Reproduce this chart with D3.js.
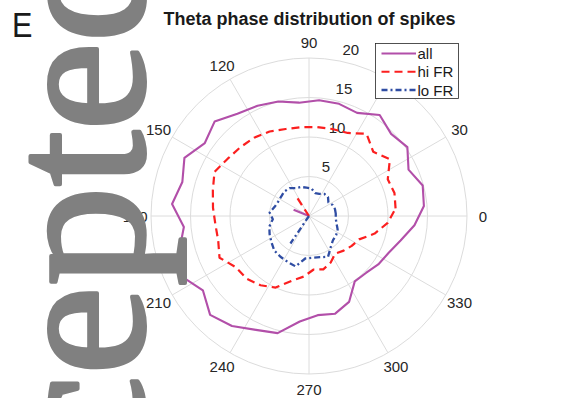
<!DOCTYPE html>
<html><head><meta charset="utf-8">
<script src="https://cdn.jsdelivr.net/npm/d3@7"></script>
<style>body{margin:0;background:#fff}svg{display:block}
.wm{font-family:"Liberation Serif","Times New Roman",Times,"Tinos","DejaVu Serif",serif;}</style>
</head><body>
<svg id="chart" width="571" height="398"></svg>
<script>
// ---- data ----
const binAngles = [5,15,25,35,45,55,65,75,85,95,105,115,125,135,145,155,165,175,
                   185,195,205,215,225,235,245,255,265,275,285,295,305,315,325,335,345,355];
const allVals = [14.6,14.9,13.9,15.2,14.7,15.6,14.4,14.7,14.7, 14.4,15.0,15.4,15.8,16.9,16.1,17.4,16.6,17.4,
                 15.9,17.0,17.9,16.4,17.7,17.0,15.9,15.35,13.4, 12.6,12.8,12.0,10.1,10.2,10.7,11.1,12.0,13.4];
const hiVals  = [11.0,11.2,11.0,12.5,11.5,12.7,11.6,11.4,11.3, 11.3,11.4,11.8,12.1,12.3,12.6,13.2,12.6,12.2,
                 11.9,11.9,12.5,11.3,11.2,10.7,10.0,8.5,7.7, 6.8,7.0,6.5,5.8,6.2,6.6,7.0,8.6,10.0];
const loVals  = [3.4,3.4,3.3,3.0,3.4,3.4,3.1,3.0,3.5, 3.6,3.8,3.9,4.3,4.4,4.3,4.3,4.5,5.0,
                 4.6,5.2,5.5,5.8,6.2,6.3,6.4,6.6,5.4, 5.3,5.4,5.7,4.8,4.3,4.2,4.0,3.6,3.4];
const seriesNames = ["all", "hi FR", "lo FR"];
const meanAngles  = [158, 123, 236];
const meanLengths = [2.1, 3.1, 4.2];
const ringTicks   = [5, 10, 15, 20];
const spokeAngles = [0, 30, 60, 90, 120, 150];
const angleTicks  = [30, 60, 90, 120, 150, 180, 210, 240, 270, 300, 330, 360];
const angleLabels = ["30","60","90","120","150","180","210","240","270","300","330","0"];
const titleText = "Theta phase distribution of spikes";
const panelLabel = "E";
const watermark = "Accepted";

// ---- setup ----
const svg = d3.select("#chart");
const cx = 309, cy = 216;
const R = 158;
const r = d3.scaleLinear().domain([0, 20]).range([0, R]);
const toRad = d => d * Math.PI / 180;
const colors = ["#b24fa9", "#fb1f1f", "#2f4da3"];
const dashes = [null, "8,5", "6,3,2,3"];
const widths = [2.1, 2.2, 2.3];
const font = "'Liberation Sans', Arial, Helvetica, sans-serif";

const g = svg.append("g").attr("transform", `translate(${cx},${cy})`);

// grid rings
g.selectAll("circle.ring").data(ringTicks).join("circle")
  .attr("r", d => r(d)).attr("fill", "none")
  .attr("stroke", "#dcdcdc").attr("stroke-width", 1);
// spokes
g.selectAll("line.spoke").data(spokeAngles).join("line")
  .attr("x1", d => r(20) * Math.cos(toRad(d)))
  .attr("y1", d => -r(20) * Math.sin(toRad(d)))
  .attr("x2", d => -r(20) * Math.cos(toRad(d)))
  .attr("y2", d => r(20) * Math.sin(toRad(d)))
  .attr("stroke", "#dcdcdc").attr("stroke-width", 1);

// angle labels
g.selectAll("text.ang").data(angleTicks).join("text")
  .attr("x", d => 1.1 * R * Math.cos(toRad(d)))
  .attr("y", d => -1.1 * R * Math.sin(toRad(d)))
  .attr("text-anchor", "middle").attr("dominant-baseline", "central")
  .attr("font-family", font).attr("font-size", 15).attr("fill", "#262626")
  .text((d, i) => angleLabels[i]);

// radial labels
g.selectAll("text.rad").data(ringTicks).join("text")
  .attr("x", d => r(d) * Math.cos(toRad(80)) + 6)
  .attr("y", d => -r(d) * Math.sin(toRad(80)) - 11)
  .attr("text-anchor", "start").attr("dominant-baseline", "central")
  .attr("font-family", font).attr("font-size", 15).attr("fill", "#262626")
  .text(d => d);

// series
const series = [allVals, hiVals, loVals];
const line = d3.lineRadial()
  .angle((d, i) => toRad(90 - binAngles[i]))
  .radius(d => r(d))
  .curve(d3.curveLinearClosed);

series.forEach((vals, k) => {
  g.append("path").datum(vals)
    .attr("d", line)
    .attr("fill", "none")
    .attr("stroke", colors[k])
    .attr("stroke-width", widths[k])
    .attr("stroke-dasharray", dashes[k])
    .attr("stroke-linejoin", "round");
  g.append("line")
    .attr("x1", 0).attr("y1", 0)
    .attr("x2", r(meanLengths[k]) * Math.cos(toRad(meanAngles[k])))
    .attr("y2", -r(meanLengths[k]) * Math.sin(toRad(meanAngles[k])))
    .attr("stroke", colors[k])
    .attr("stroke-width", widths[k])
    .attr("stroke-dasharray", dashes[k]);
});

// title
svg.append("text").attr("x", 309.5).attr("y", 25)
  .attr("text-anchor", "middle").attr("font-family", font)
  .attr("font-size", 18).attr("font-weight", "bold").attr("fill", "#1a1a1a")
  .text(titleText);

// legend
const lg = svg.append("g");
lg.append("rect").attr("x", 375.5).attr("y", 43.5).attr("width", 83).attr("height", 55)
  .attr("fill", "#fff").attr("stroke", "#262626").attr("stroke-width", 0.8);
const rowY = d3.scalePoint().domain(seriesNames).range([53.5, 90]);
seriesNames.forEach((name, k) => {
  lg.append("line").attr("x1", 381.5).attr("x2", 416).attr("y1", rowY(name)).attr("y2", rowY(name))
    .attr("stroke", colors[k]).attr("stroke-width", widths[k]).attr("stroke-dasharray", dashes[k]);
  lg.append("text").attr("x", 417.5).attr("y", rowY(name))
    .attr("dominant-baseline", "central").attr("font-family", font).attr("font-size", 15)
    .attr("fill", "#1a1a1a").text(name);
});

// watermark
svg.append("text")
  .attr("class", "wm")
  .attr("transform", "translate(143,697) rotate(-90)")
  .attr("font-size", 200).attr("fill", "#808080")
  .attr("stroke", "#808080").attr("stroke-width", 4).attr("stroke-linejoin", "round")
  .text(watermark);

// panel label
svg.append("text")
  .attr("transform", "translate(12,36.5) scale(0.85,1)")
  .attr("font-family", font).attr("font-size", 36).attr("fill", "#1a1a1a")
  .text(panelLabel);
</script>
</body></html>
